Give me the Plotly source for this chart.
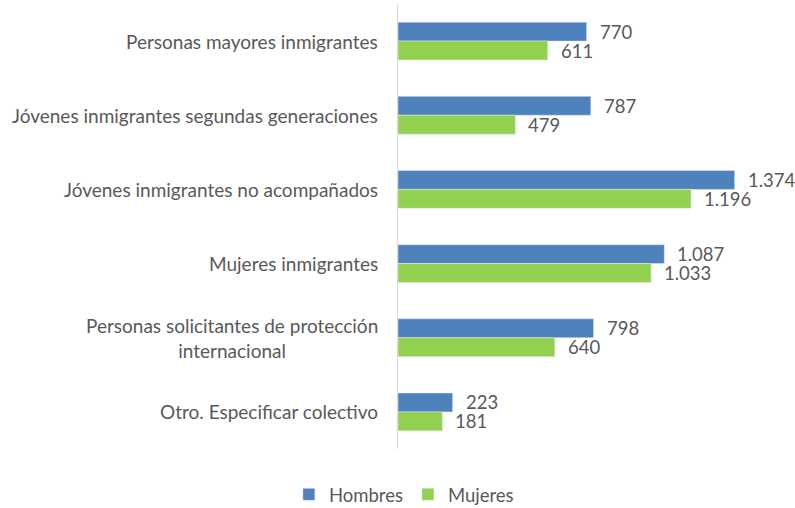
import plotly.graph_objects as go

categorias = [
    "Personas mayores inmigrantes",
    "Jóvenes inmigrantes segundas generaciones",
    "Jóvenes inmigrantes no acompañados",
    "Mujeres inmigrantes",
    "Personas solicitantes de protección<br>internacional",
    "Otro. Especificar colectivo",
]
hombres = [770, 787, 1374, 1087, 798, 223]
mujeres = [611, 479, 1196, 1033, 640, 181]

AZUL = "#4F81BD"
VERDE = "#92D050"
GRIS = "#595959"
FUENTE = "Lato"

fig = go.Figure()
fig.add_trace(go.Bar(y=categorias, x=hombres, name="Hombres", orientation="h",
                     marker=dict(color=AZUL)))
fig.add_trace(go.Bar(y=categorias, x=mujeres, name="Mujeres", orientation="h",
                     marker=dict(color=VERDE)))

# etiquetas de datos a la derecha de cada barra
for serie, desplaz in ((hombres, 9.5), (mujeres, -9.5)):
    for cat, v in zip(categorias, serie):
        fig.add_annotation(x=v, y=cat, text=f"{v:,}".replace(",", "."),
                           xanchor="left", yanchor="middle", xshift=11, yshift=desplaz,
                           showarrow=False, font=dict(size=18.5, color=GRIS, family=FUENTE))

# etiquetas de categoría centradas (multilínea)
for cat in categorias:
    fig.add_annotation(x=0, xref="paper", y=cat, text=cat, xanchor="right",
                       yanchor="middle", xshift=-18, align="center", showarrow=False,
                       font=dict(size=19, color=GRIS, family=FUENTE))

fig.update_layout(
    width=795, height=508,
    barmode="group", bargap=0.49, bargroupgap=0,
    plot_bgcolor="white", paper_bgcolor="white",
    font=dict(family=FUENTE, color=GRIS, size=17),
    margin=dict(l=398, r=5, t=4, b=59, autoexpand=False),
    xaxis=dict(range=[0, 1600], showticklabels=False, showgrid=False,
               zeroline=False, showline=False),
    yaxis=dict(autorange="reversed", showticklabels=False, showgrid=False,
               showline=True, linecolor="#D9D9D9", linewidth=1, ticks=""),
    legend=dict(orientation="h", x=0.015, xanchor="center", y=-0.103, yanchor="middle",
                font=dict(size=18.5, color=GRIS), itemwidth=30, traceorder="normal"),
    showlegend=True,
)

fig.write_html("out.html", config={"displayModeBar": False},
               post_script="document.body.style.margin='0';")
